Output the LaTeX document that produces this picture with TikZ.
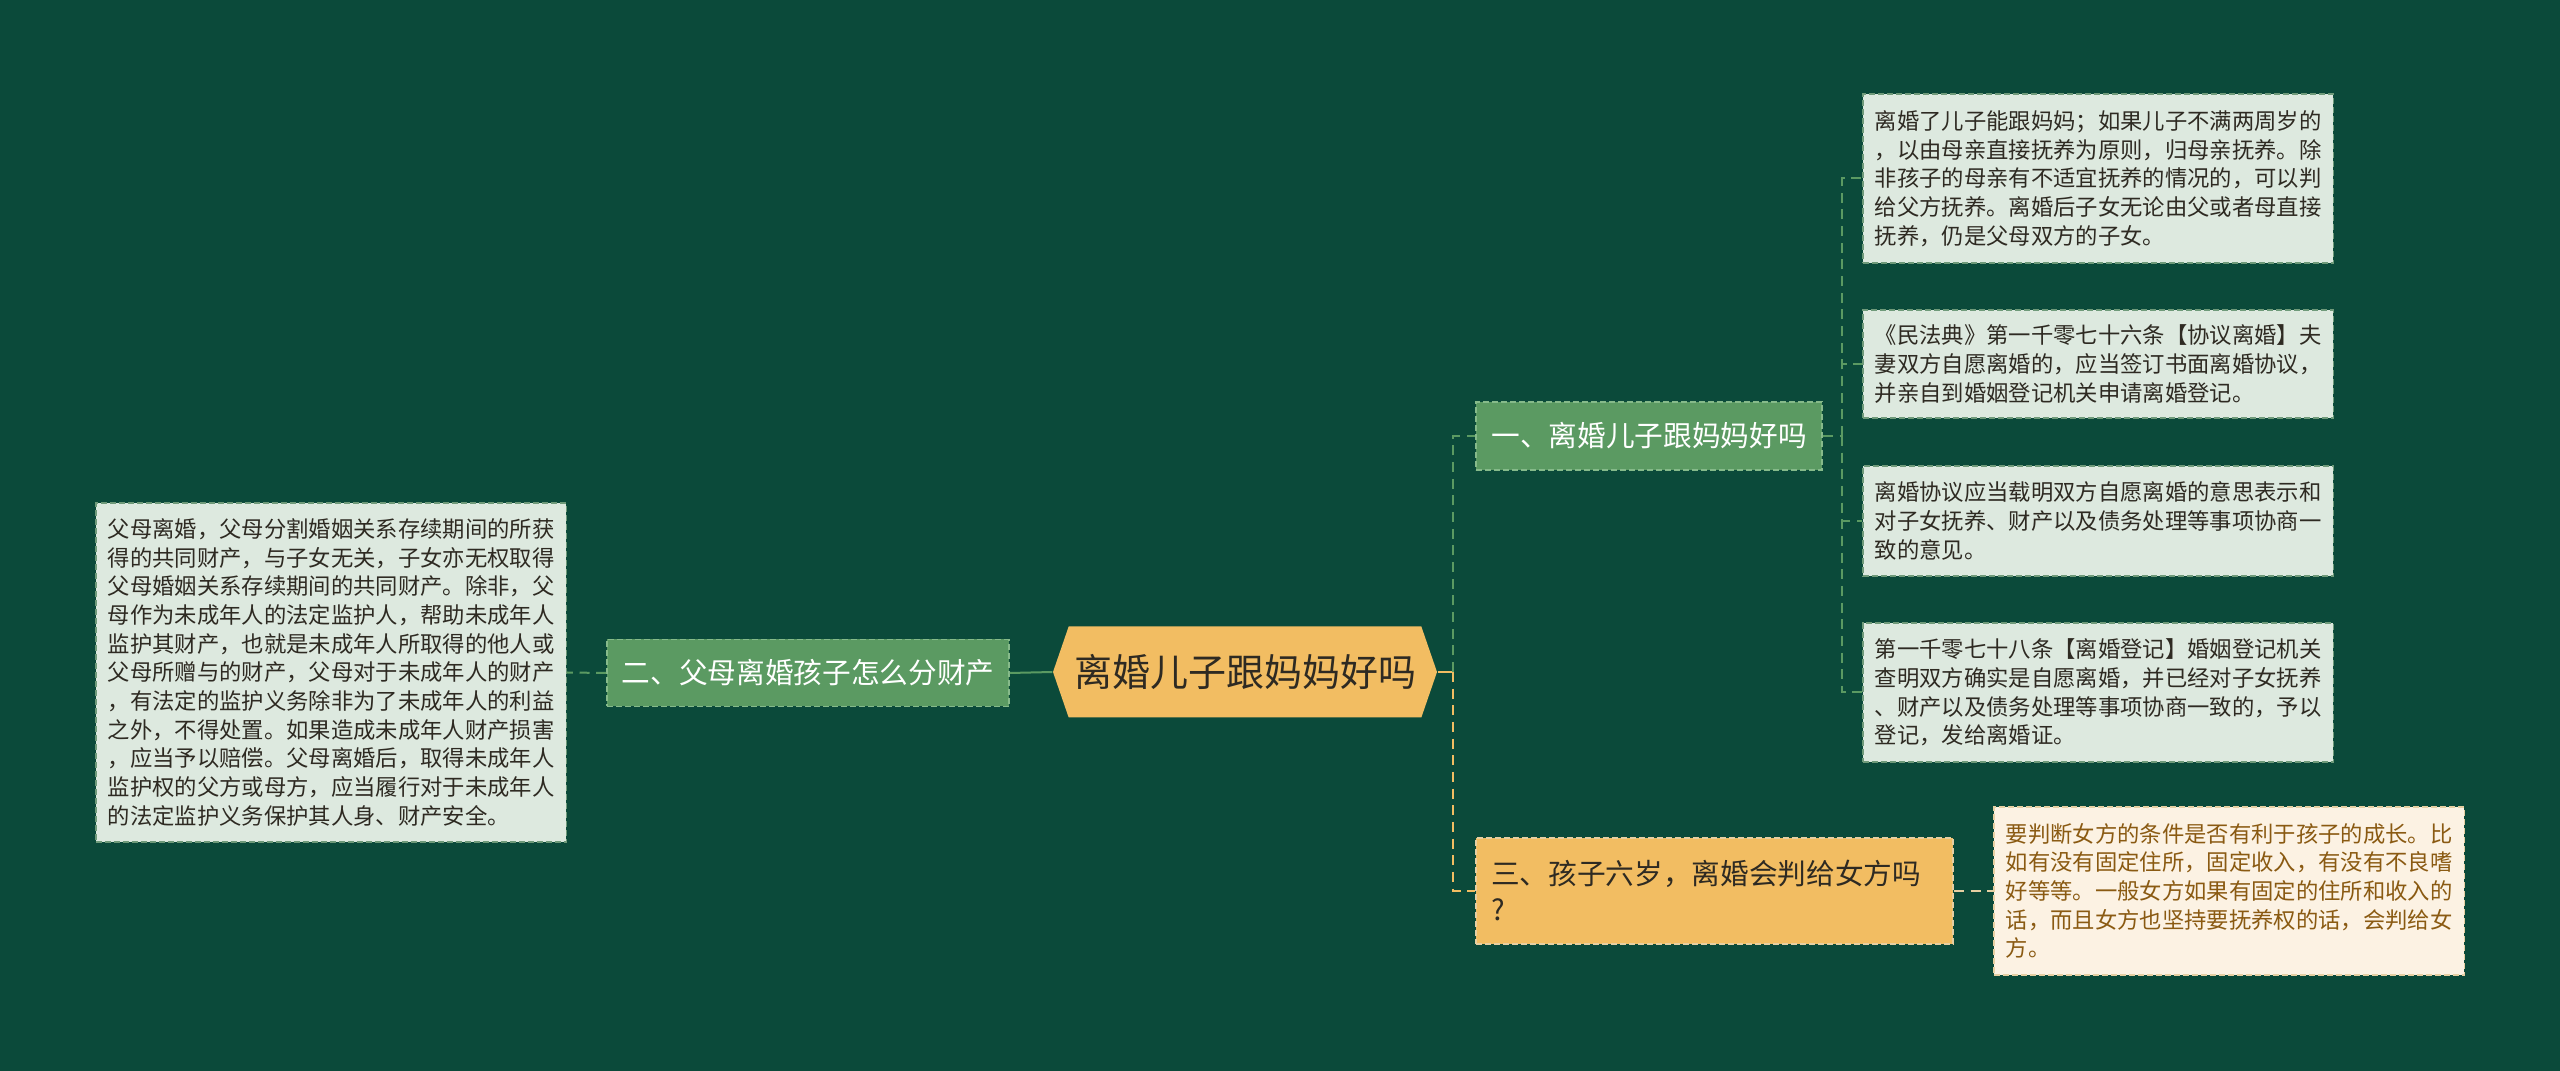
\documentclass[tikz,border=0pt]{standalone}
\usepackage{fontspec}
\newfontfamily\cjk{Noto Sans CJK SC}
\usetikzlibrary{shapes.symbols}

\definecolor{bgcol}{HTML}{0B4A3A}
\definecolor{rootfill}{HTML}{F2BD62}
\definecolor{grnfill}{HTML}{5B9A62}
\definecolor{grnline}{HTML}{86BA8A}
\definecolor{leaffill}{HTML}{DDE9DF}
\definecolor{leafline}{HTML}{6F9A7A}
\definecolor{creamfill}{HTML}{FCF2E3}
\definecolor{creamline}{HTML}{E6CFA2}
\definecolor{creamtext}{HTML}{8A5A12}
\definecolor{txtdark}{HTML}{2E2A22}

\begin{document}
\begin{tikzpicture}[x=0.3pt, y=-0.3pt,
        root/.style   = {signal, signal to=west and east, signal pointer angle=142, fill=rootfill,
                         text=txtdark, font=\cjk\fontsize{11.4}{13}\selectfont,
                         minimum width=115.2pt, minimum height=27.3pt, inner sep=0pt},
        topic/.style  = {fill=grnfill, draw=grnline, line width=0.5pt, dash pattern=on 1.8pt off 0.9pt,
                         text=white, font=\cjk\fontsize{8.6}{10.8}\selectfont, inner sep=0pt},
        topicy/.style = {fill=rootfill, draw=creamline, line width=0.5pt, dash pattern=on 1.8pt off 0.9pt,
                         text=txtdark, font=\cjk\fontsize{8.6}{10.8}\selectfont,
                         text width=134.1pt, align=left, inner xsep=4.5pt, inner ysep=0pt},
        note/.style   = {fill=leaffill, draw=leafline, line width=0.5pt, dash pattern=on 1.8pt off 0.9pt,
                         text=txtdark, font=\cjk\fontsize{6.7}{8.6}\selectfont,
                         text width=134pt, align=left, inner xsep=3.6pt, inner ysep=0pt},
        notey/.style  = {note, fill=creamfill, draw=creamline, text=creamtext},
        lngrn/.style  = {draw=grnfill, line width=0.6pt},
        lnyel/.style  = {draw=rootfill, line width=0.6pt},
        dsh/.style    = {dash pattern=on 3pt off 2pt}
    ]
    \fill[bgcol] (0,0) rectangle (2560,1071);
    \useasboundingbox (0,0) rectangle (2560,1071);

    % centre
    \node[root] (root) at (1245,672) {离婚儿子跟妈妈好吗};

    % branches
    \node[topic, minimum width=103.8pt, minimum height=20.4pt] (topic1) at (1649,436) {一、离婚儿子跟妈妈好吗};
    \node[topic, minimum width=120.6pt, minimum height=20.1pt] (topic2) at (808,673) {二、父母离婚孩子怎么分财产};
    \node[topicy, minimum height=31.8pt] (topic3) at (1714.5,891) {三、孩子六岁，离婚会判给女方吗\\?};

    % notes
    \node[note, minimum height=101.7pt] (noteL) at (331,672.5) {父母离婚，父母分割婚姻关系存续期间的所获\\得的共同财产，与子女无关，子女亦无权取得\\父母婚姻关系存续期间的共同财产。除非，父\\母作为未成年人的法定监护人，帮助未成年人\\监护其财产，也就是未成年人所取得的他人或\\父母所赠与的财产，父母对于未成年人的财产\\，有法定的监护义务除非为了未成年人的利益\\之外，不得处置。如果造成未成年人财产损害\\，应当予以赔偿。父母离婚后，取得未成年人\\监护权的父方或母方，应当履行对于未成年人\\的法定监护义务保护其人身、财产安全。};
    \node[note, minimum height=50.7pt] (note1) at (2098,178.5) {离婚了儿子能跟妈妈；如果儿子不满两周岁的\\，以由母亲直接抚养为原则，归母亲抚养。除\\非孩子的母亲有不适宜抚养的情况的，可以判\\给父方抚养。离婚后子女无论由父或者母直接\\抚养，仍是父母双方的子女。};
    \node[note, minimum height=32.4pt] (note2) at (2098,364) {《民法典》第一千零七十六条【协议离婚】夫\\妻双方自愿离婚的，应当签订书面离婚协议，\\并亲自到婚姻登记机关申请离婚登记。};
    \node[note, minimum height=33pt] (note3) at (2098,521) {离婚协议应当载明双方自愿离婚的意思表示和\\对子女抚养、财产以及债务处理等事项协商一\\致的意见。};
    \node[note, minimum height=41.7pt] (note4) at (2098,692.5) {第一千零七十八条【离婚登记】婚姻登记机关\\查明双方确实是自愿离婚，并已经对子女抚养\\、财产以及债务处理等事项协商一致的，予以\\登记，发给离婚证。};
    \node[notey, minimum height=50.4pt] (note5) at (2229,891) {要判断女方的条件是否有利于孩子的成长。比\\如有没有固定住所，固定收入，有没有不良嗜\\好等等。一般女方如果有固定的住所和收入的\\话，而且女方也坚持要抚养权的话，会判给女\\方。};

    % joints
    \coordinate (jroot) at (1453,672);
    \coordinate (jt1) at (1842,436);

    % connectors
    \draw[lnyel] (root.east) -- (jroot);
    \draw[lngrn, dsh] (jroot) |- (topic1.west);
    \draw[lnyel, dsh] (jroot) |- (topic3.west);
    \draw[lngrn] (topic2.east) -- (root.west);
    \draw[lngrn, dsh] (topic2.west) -- (noteL.east);
    \draw[lngrn, dsh] (topic1.east) -- (jt1);
    \foreach \n in {note1,note2,note3,note4}
        \draw[lngrn, dsh] (jt1) |- (\n.west);
    \draw[draw=creamline, line width=0.6pt, dsh] (topic3.east) -- (note5.west);
\end{tikzpicture}
\end{document}
